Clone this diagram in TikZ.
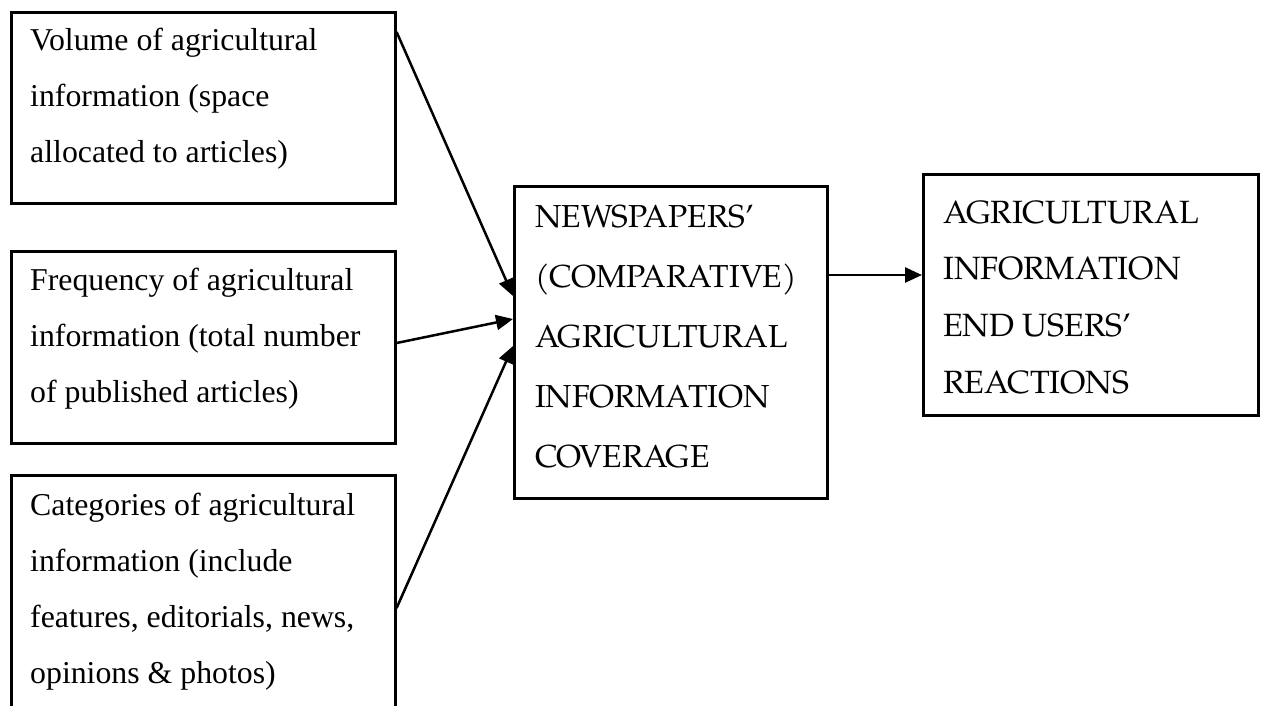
\documentclass[tikz,border=0pt]{standalone}
\usepackage{fontspec}
\setmainfont{Liberation Serif}
\newfontfamily\palfont{TeX Gyre Pagella}
\usetikzlibrary{arrows.meta,calc}
\tikzset{
  box/.style={draw=black, line width=2.6pt, rectangle, inner sep=0pt, anchor=north west},
  ltxt/.style={anchor=base west, inner sep=0pt, font=\fontsize{31.8}{56}\selectfont},
  ctxt/.style={anchor=base west, inner sep=0pt, font=\palfont\fontsize{31.8}{60}\selectfont},
  rtxt/.style={anchor=base west, inner sep=0pt, font=\palfont\fontsize{32.2}{56.7}\selectfont},
  arr/.style={line width=2.5pt, -{Triangle[length=17pt,width=15pt]}}
}
\begin{document}
\begin{tikzpicture}[x=1pt,y=-1pt]
\clip (0,0) rectangle (1263,705);
\fill[white] (0,0) rectangle (1263,705);
% boxes
\node[box, minimum width=384, minimum height=191] (b1) at (10,11) {};
\node[box, minimum width=384, minimum height=192] (b2) at (10,250) {};
\node[box, minimum width=384, minimum height=300] (b3) at (10,474) {};
\node[box, minimum width=313, minimum height=312] (c) at (513,185) {};
\node[box, minimum width=335, minimum height=241] (r) at (922,173) {};
% texts
\node[ltxt] (t1) at (30,50) {\vtop{\hbox{Volume of agricultural}\hbox{information (space}\hbox{allocated to articles)}}};
\node[ltxt] (t2) at (30,290) {\vtop{\hbox{Frequency of agricultural}\hbox{information (total number}\hbox{of published articles)}}};
\node[ltxt] (t3) at (30,515) {\vtop{\hbox{Categories of agricultural}\hbox{information (include}\hbox{features, editorials, news,}\hbox{opinions \& photos)}}};
\node[ctxt] (tc) at (535,227) {\vtop{\hbox{NEWSPAPERS’}\hbox{(COMPARATIVE)}\hbox{AGRICULTURAL}\hbox{INFORMATION}\hbox{COVERAGE}}};
\node[rtxt] (tr) at (943,223) {\vtop{\hbox{AGRICULTURAL}\hbox{INFORMATION}\hbox{END USERS’}\hbox{REACTIONS}}};
% connectors
\draw[arr] ($(b1.north east)+(0,21)$) -- ($(c.north west)+(0,111)$);
\draw[arr] ($(b2.north east)+(0,93)$) -- ($(c.north west)+(0,134)$);
\draw[arr] ($(b3.north east)+(0,134)$) -- ($(c.north west)+(0,161)$);
\draw[arr] ($(c.north east)+(0,90)$) -- ($(r.north west)+(0,102)$);
\end{tikzpicture}
\end{document}
